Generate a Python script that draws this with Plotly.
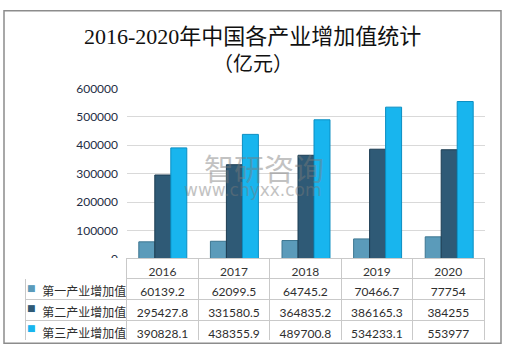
import plotly.graph_objects as go

W, H = 505, 355

years = ["2016", "2017", "2018", "2019", "2020"]
series_names = ["第一产业增加值", "第二产业增加值", "第三产业增加值"]
s1 = [60139.2, 62099.5, 64745.2, 70466.7, 77754]
s2 = [295427.8, 331580.5, 364835.2, 386165.3, 384255]
s3 = [390828.1, 438355.9, 489700.8, 534233.1, 553977]
yticks = [0, 100000, 200000, 300000, 400000, 500000, 600000]

colors = ["#5b9bba", "#2f5a76", "#18b5ee"]
edges = ["#3d7691", "#1c3c52", "#0b8ec2"]

def px_x(p):
    return p / W

def px_y(p):
    return (H - p) / H

def fmt(v):
    return str(int(v)) if float(v).is_integer() else str(v)

fig = go.Figure()
for name, vals, c, e in zip(series_names, [s1, s2, s3], colors, edges):
    fig.add_trace(go.Bar(x=years, y=vals, name=name, marker=dict(color=c, line=dict(color=e, width=1)),
                         xaxis="x", yaxis="y", showlegend=False))

label_col = ["\u00a0\u00a0\u00a0" + n for n in series_names]
cols = [label_col] + [[fmt(s1[i]), fmt(s2[i]), fmt(s3[i])] for i in range(len(years))]

row_h = 21
line_c = "#c9c9c9"
tfont = "Lato, Noto Sans CJK SC"
fig.add_trace(go.Table(
    domain=dict(x=[px_x(25), px_x(485)], y=[px_y(347), px_y(262)]),
    columnwidth=[102] + [71.6] * len(years),
    header=dict(values=[""] + years,
                line=dict(color=["white"] + [line_c] * len(years), width=1),
                fill=dict(color="white"),
                align="center", height=20,
                font=dict(family=tfont, size=12, color="#333333")),
    cells=dict(values=cols,
               line=dict(color=line_c, width=1),
               fill=dict(color="white"),
               align=["left"] + ["center"] * len(years), height=row_h,
               font=dict(family=tfont, size=12, color="#2e2e2e")),
))

annotations = [
    dict(text="2016-2020年中国各产业增加值统计", x=0.5, y=px_y(30), xref="paper", yref="paper",
         yanchor="middle", showarrow=False,
         font=dict(family="Liberation Serif, Noto Sans CJK SC", size=22, color="#111111")),
    dict(text="（亿元）", x=0.5, y=px_y(57), xref="paper", yref="paper",
         yanchor="middle", showarrow=False,
         font=dict(family="Noto Sans CJK SC", size=20, color="#111111")),
    dict(text="智研咨询", x=px_x(264), y=px_y(166), xref="paper", yref="paper",
         showarrow=False, opacity=0.45, font=dict(family="Noto Sans CJK SC", size=30, color="#7a7a7a")),
    dict(text="www.chyxx.com", x=px_x(253), y=px_y(190), xref="paper", yref="paper",
         showarrow=False, opacity=0.45, font=dict(family="DejaVu Sans", size=17, color="#7a7a7a")),
]
for i, c in enumerate(colors):
    annotations.append(dict(text="■", x=px_x(31.5), y=px_y(292 + i * row_h), xref="paper", yref="paper",
                            xanchor="center", yanchor="middle", showarrow=False,
                            font=dict(family="DejaVu Sans", size=9, color=c)))

fig.update_layout(
    width=W, height=H, autosize=False,
    margin=dict(l=0, r=0, t=0, b=0),
    paper_bgcolor="white", plot_bgcolor="white",
    barmode="group", bargap=0.33, bargroupgap=0,
    xaxis=dict(domain=[px_x(127), px_x(485)], showticklabels=False, showgrid=False,
               showline=False, zeroline=False, ticks=""),
    yaxis=dict(domain=[px_y(262), px_y(84)], range=[0, 600000], tickvals=yticks,
               tickformat="d", showgrid=True, gridcolor="#d9d9d9", gridwidth=1,
               zeroline=False, showline=False, ticks="", ticklabelstandoff=8,
               tickfont=dict(family="Lato", size=12, color="#1f2d44")),
    shapes=[dict(type="rect", xref="paper", yref="paper",
                 x0=px_x(4), x1=px_x(501), y0=px_y(350), y1=px_y(3),
                 line=dict(color="#8c8c8c", width=1.5))],
    annotations=annotations,
)

fig.write_html("out.html")
